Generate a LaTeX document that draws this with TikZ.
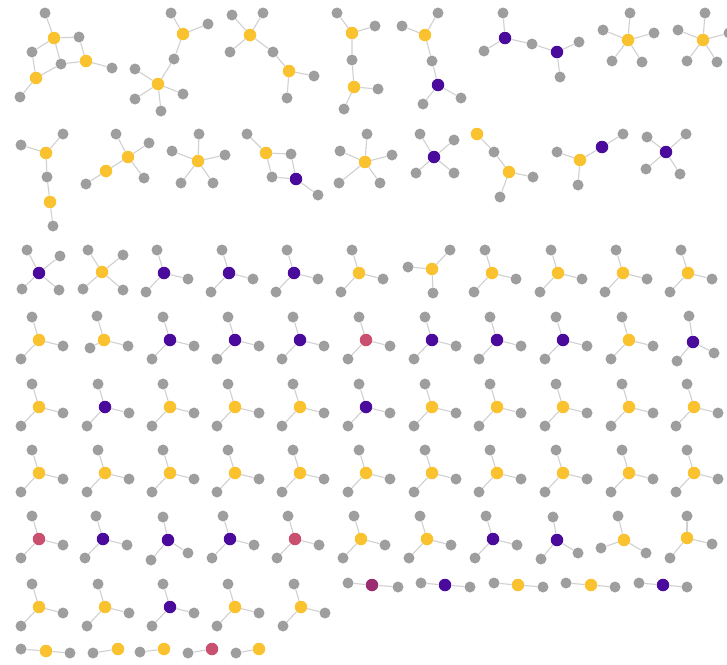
\documentclass[tikz,border=0pt]{standalone}
\usepackage{tikz}
\usepackage{xcolor}

\definecolor{hubyellow}{HTML}{F9C22E}
\definecolor{hubpurple}{HTML}{4A0B9C}
\definecolor{hubred}{HTML}{C9506F}
\definecolor{hubmagenta}{HTML}{9B2C72}
\definecolor{leafgray}{HTML}{9E9E9E}
\definecolor{edgegray}{HTML}{D0D0D0}

\begin{document}
\begin{tikzpicture}[x=1pt, y=-1pt]
    \tikzstyle{hub} = [circle, inner sep=0pt, minimum size=12.5pt]
    \tikzstyle{leaf} = [circle, fill=leafgray, inner sep=0pt, minimum size=11pt]
    \tikzstyle{link} = [draw=edgegray, line width=1.1pt]

    \useasboundingbox (0,0) rectangle (727,664);
    \clip (0,0) rectangle (727,664);

    % component with three hubs, top left
    \node [leaf] (ca1) at (45,13) {};
    \node [hub, fill=hubyellow] (ca2) at (54,38) {};
    \node [leaf] (ca3) at (79,37) {};
    \node [leaf] (ca4) at (32,52) {};
    \node [leaf] (ca5) at (61,64) {};
    \node [hub, fill=hubyellow] (ca6) at (86,61) {};
    \node [leaf] (ca7) at (112,68) {};
    \node [hub, fill=hubyellow] (ca8) at (36,78) {};
    \node [leaf] (ca9) at (20,97) {};
    \path [link] (ca1) -- (ca2) (ca2) -- (ca3) (ca3) -- (ca6) (ca2) -- (ca4)
        (ca4) -- (ca8) (ca2) -- (ca5) (ca5) -- (ca6) (ca5) -- (ca8)
        (ca6) -- (ca7) (ca8) -- (ca9);

    \node [leaf] (cb1) at (171,13) {};
    \node [hub, fill=hubyellow] (cb2) at (183,34) {};
    \node [leaf] (cb3) at (208,24) {};
    \node [leaf] (cb4) at (174,59) {};
    \node [hub, fill=hubyellow] (cb5) at (158,84) {};
    \node [leaf] (cb6) at (135,69) {};
    \node [leaf] (cb7) at (135,99) {};
    \node [leaf] (cb8) at (161,111) {};
    \node [leaf] (cb9) at (183,94) {};
    \path [link] (cb2) -- (cb1) (cb2) -- (cb3) (cb2) -- (cb4) (cb4) -- (cb5)
        (cb5) -- (cb6) (cb5) -- (cb7) (cb5) -- (cb8) (cb5) -- (cb9);

    \node [leaf] (cc1) at (232,15) {};
    \node [leaf] (cc2) at (263,13) {};
    \node [hub, fill=hubyellow] (cc3) at (250,35) {};
    \node [leaf] (cc4) at (230,52) {};
    \node [leaf] (cc5) at (273,52) {};
    \node [hub, fill=hubyellow] (cc6) at (289,71) {};
    \node [leaf] (cc7) at (314,76) {};
    \node [leaf] (cc8) at (287,98) {};
    \path [link] (cc3) -- (cc1) (cc3) -- (cc2) (cc3) -- (cc4) (cc3) -- (cc5)
        (cc5) -- (cc6) (cc6) -- (cc7) (cc6) -- (cc8);

    \node [leaf] (cd1) at (337,13) {};
    \node [hub, fill=hubyellow] (cd2) at (352,33) {};
    \node [leaf] (cd3) at (375,26) {};
    \node [leaf] (cd4) at (352,60) {};
    \node [hub, fill=hubyellow] (cd5) at (354,87) {};
    \node [leaf] (cd6) at (378,89) {};
    \node [leaf] (cd7) at (344,109) {};
    \path [link] (cd2) -- (cd1) (cd2) -- (cd3) (cd2) -- (cd4) (cd4) -- (cd5)
        (cd5) -- (cd6) (cd5) -- (cd7);

    \node [leaf] (ce1) at (438,13) {};
    \node [leaf] (ce2) at (402,26) {};
    \node [hub, fill=hubyellow] (ce3) at (425,35) {};
    \node [leaf] (ce4) at (432,61) {};
    \node [hub, fill=hubpurple] (ce5) at (438,85) {};
    \node [leaf] (ce6) at (423,104) {};
    \node [leaf] (ce7) at (461,98) {};
    \path [link] (ce3) -- (ce1) (ce3) -- (ce2) (ce3) -- (ce4) (ce4) -- (ce5)
        (ce5) -- (ce6) (ce5) -- (ce7);

    \node [leaf] (cf1) at (503,13) {};
    \node [hub, fill=hubpurple] (cf2) at (505,38) {};
    \node [leaf] (cf3) at (484,51) {};
    \node [leaf] (cf4) at (532,44) {};
    \node [hub, fill=hubpurple] (cf5) at (557,52) {};
    \node [leaf] (cf6) at (579,42) {};
    \node [leaf] (cf7) at (560,77) {};
    \path [link] (cf2) -- (cf1) (cf2) -- (cf3) (cf2) -- (cf4) (cf4) -- (cf5)
        (cf5) -- (cf6) (cf5) -- (cf7);

    % second band
    \node [leaf] (ci1) at (63,134) {};
    \node [leaf] (ci2) at (21,145) {};
    \node [hub, fill=hubyellow] (ci3) at (46,153) {};
    \node [leaf] (ci4) at (47,177) {};
    \node [hub, fill=hubyellow] (ci5) at (50,202) {};
    \node [leaf] (ci6) at (53,226) {};
    \path [link] (ci3) -- (ci1) (ci3) -- (ci2) (ci3) -- (ci4) (ci4) -- (ci5)
        (ci5) -- (ci6);

    \node [leaf] (cj1) at (116,134) {};
    \node [leaf] (cj2) at (149,143) {};
    \node [hub, fill=hubyellow] (cj3) at (128,157) {};
    \node [hub, fill=hubyellow] (cj4) at (106,171) {};
    \node [leaf] (cj5) at (86,184) {};
    \node [leaf] (cj6) at (144,178) {};
    \path [link] (cj3) -- (cj1) (cj3) -- (cj2) (cj3) -- (cj6) (cj3) -- (cj4)
        (cj4) -- (cj5);

    \node [leaf] (cl1) at (247,134) {};
    \node [hub, fill=hubyellow] (cl2) at (266,153) {};
    \node [leaf] (cl3) at (291,154) {};
    \node [leaf] (cl4) at (272,177) {};
    \node [hub, fill=hubpurple] (cl5) at (296,179) {};
    \node [leaf] (cl6) at (318,195) {};
    \path [link] (cl2) -- (cl1) (cl2) -- (cl3) (cl2) -- (cl4) (cl4) -- (cl5)
        (cl3) -- (cl5) (cl5) -- (cl6);

    \node [hub, fill=hubyellow] (co1) at (477,134) {};
    \node [leaf] (co2) at (494,152) {};
    \node [hub, fill=hubyellow] (co3) at (509,172) {};
    \node [leaf] (co4) at (533,177) {};
    \node [leaf] (co5) at (500,197) {};
    \path [link] (co1) -- (co2) (co2) -- (co3) (co3) -- (co4) (co3) -- (co5);

    \node [leaf] (cp1) at (557,152) {};
    \node [hub, fill=hubyellow] (cp2) at (580,160) {};
    \node [hub, fill=hubpurple] (cp3) at (602,147) {};
    \node [leaf] (cp4) at (623,134) {};
    \node [leaf] (cp5) at (578,185) {};
    \path [link] (cp2) -- (cp1) (cp2) -- (cp3) (cp3) -- (cp4) (cp2) -- (cp5);

    % single hub stars, leaves given one by one
    \foreach \hx/\hy/\hc/\lvs [count=\i] in {
        628/40/hubyellow/{630/13, 603/30, 654/33, 612/61, 642/62},
        703/40/hubyellow/{705/13, 678/30, 729/33, 687/61, 717/62},
        198/161/hubyellow/{199/134, 172/151, 225/155, 181/183, 213/183},
        365/162/hubyellow/{367/134, 340/151, 392/155, 339/183, 380/183},
        434/157/hubpurple/{420/134, 454/140, 416/173, 454/173},
        666/152/hubpurple/{647/137, 686/134, 646/169, 680/174},
        39/273/hubpurple/{27/250, 60/256, 22/289, 59/290},
        102/272/hubyellow/{88/250, 123/255, 83/289, 123/290},
        432/269/hubyellow/{408/267, 450/250, 433/293},
        104/340/hubyellow/{97/316, 128/346, 90/348},
        693/342/hubpurple/{689/316, 714/353, 677/361},
        168/540/hubpurple/{163/517, 188/553, 151/560},
        557/540/hubpurple/{553/517, 578/553, 541/559},
        624/540/hubyellow/{618/516, 601/548, 646/553},
        687/538/hubyellow/{687/516, 712/544, 670/558},
        372/585/hubmagenta/{348/583, 398/587},
        445/585/hubpurple/{421/583, 470/587},
        518/585/hubyellow/{494/583, 543/587},
        591/585/hubyellow/{566/583, 615/587},
        663/585/hubpurple/{639/583, 687/587},
        46/651/hubyellow/{21/649, 70/653},
        118/649/hubyellow/{93/653},
        164/649/hubyellow/{140/652},
        212/649/hubred/{188/653},
        259/649/hubyellow/{236/653}}{
        \node [hub, fill=\hc] (k\i) at (\hx,\hy) {};
        \foreach \lx/\ly [count=\j] in \lvs {
            \node [leaf] (k\i-\j) at (\lx,\ly) {};
            \path [link] (k\i) -- (k\i-\j);
        }
    }

    % three-leaf stars in the grid
    \foreach \x/\y/\c [count=\i] in {
        164/273/hubpurple, 229/273/hubpurple, 294/273/hubpurple, 359/273/hubyellow,
        492/273/hubyellow, 558/273/hubyellow, 623/273/hubyellow, 688/273/hubyellow,
        39/340/hubyellow, 170/340/hubpurple, 235/340/hubpurple, 300/340/hubpurple,
        366/340/hubred, 432/340/hubpurple, 497/340/hubpurple, 563/340/hubpurple,
        629/340/hubyellow,
        39/407/hubyellow, 105/407/hubpurple, 170/407/hubyellow, 235/407/hubyellow,
        300/407/hubyellow, 366/407/hubpurple, 432/407/hubyellow, 497/407/hubyellow,
        563/407/hubyellow, 629/407/hubyellow, 694/407/hubyellow,
        39/473/hubyellow, 105/473/hubyellow, 170/473/hubyellow, 235/473/hubyellow,
        300/473/hubyellow, 366/473/hubyellow, 432/473/hubyellow, 497/473/hubyellow,
        563/473/hubyellow, 629/473/hubyellow, 694/473/hubyellow,
        39/539/hubred, 103/539/hubpurple, 230/539/hubpurple, 295/539/hubred,
        361/539/hubyellow, 427/539/hubyellow, 493/539/hubpurple,
        39/607/hubyellow, 105/607/hubyellow, 170/607/hubpurple, 235/607/hubyellow,
        301/607/hubyellow}{
        \node [hub, fill=\c] (s\i) at (\x,\y) {};
        \node [leaf] (t\i) at (\x-7,\y-23) {};
        \node [leaf] (r\i) at (\x+24,\y+6) {};
        \node [leaf] (b\i) at (\x-18,\y+19) {};
        \path [link] (s\i) -- (t\i) (s\i) -- (r\i) (s\i) -- (b\i);
    }
\end{tikzpicture}
\end{document}
